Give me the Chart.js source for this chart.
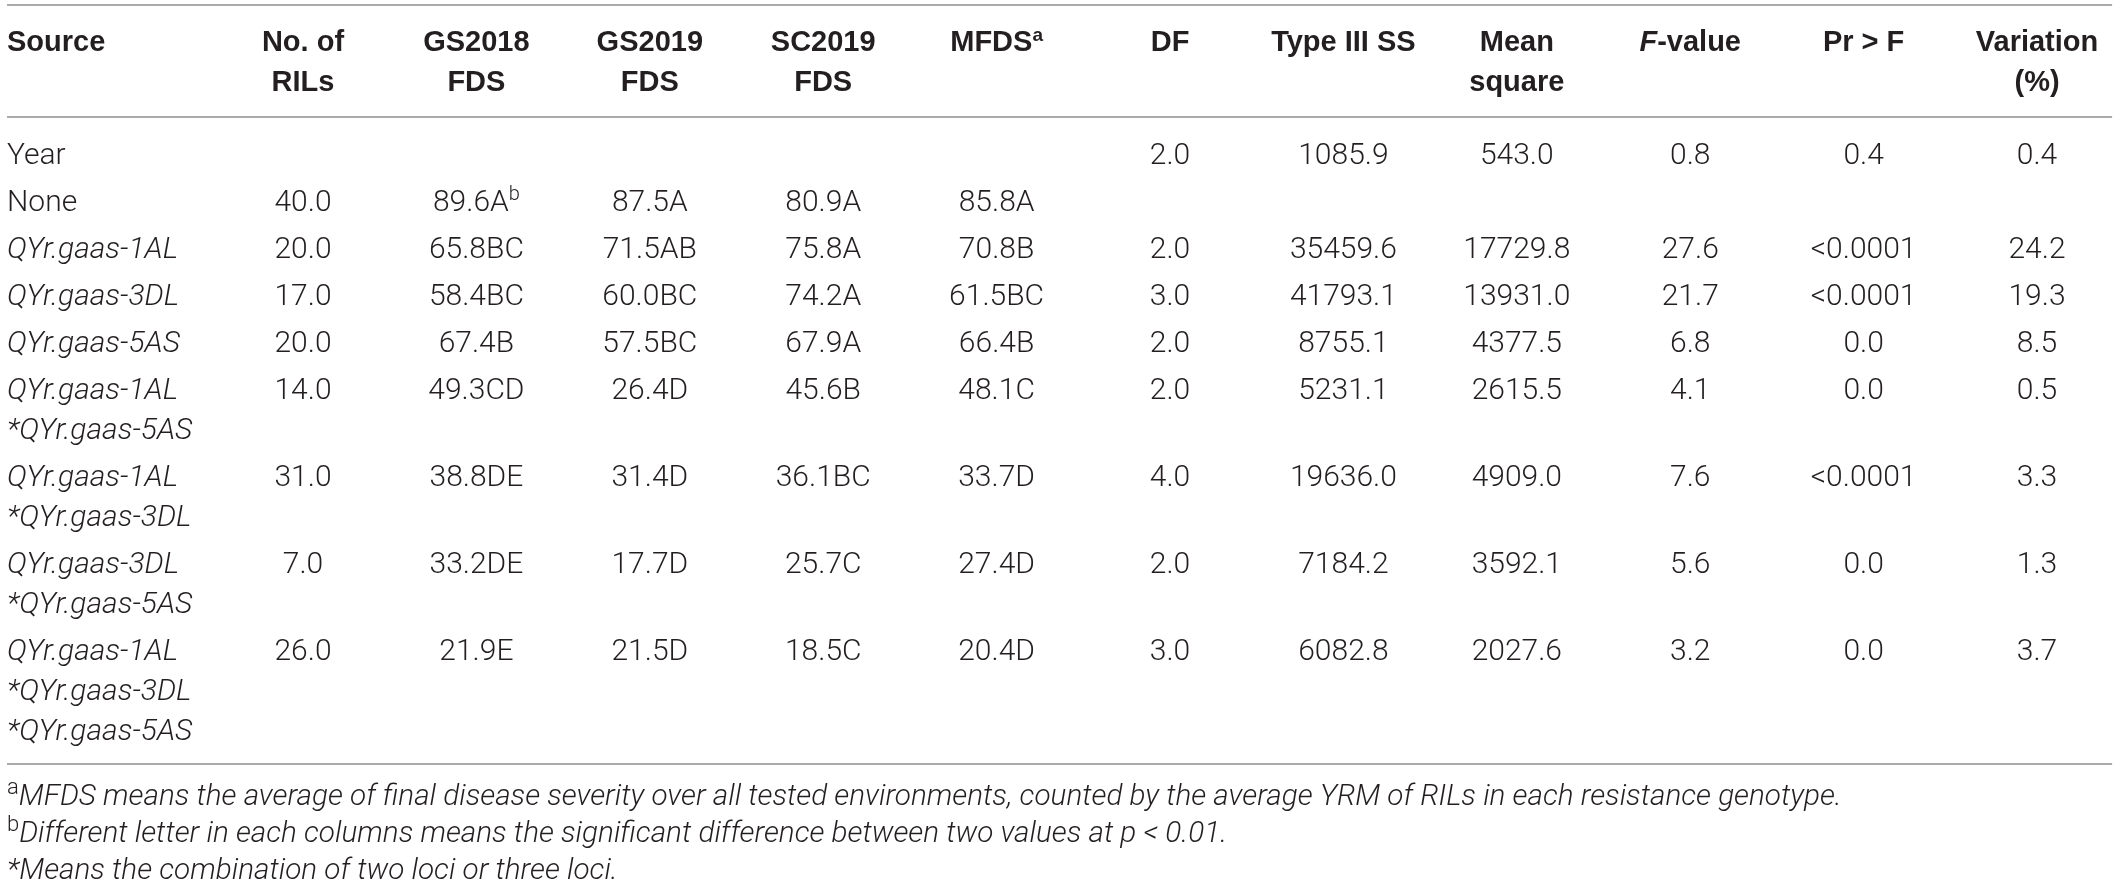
<!DOCTYPE html>
<html>
<head>
<meta charset="utf-8">
<title>QYr.gaas resistance loci: FDS and ANOVA</title>
<script src="https://cdn.jsdelivr.net/npm/chart.js@4.4.1/dist/chart.umd.min.js"></script>
<style>
  html, body { margin: 0; padding: 0; background: #fff; }
  canvas { display: block; }
</style>
</head>
<body>
<canvas id="tableChart" width="2118" height="883"></canvas>
<script>
// '|' breaks a line, _text_ is italic, ^text^ is superscript
const headers = ['Source', 'No. of|RILs', 'GS2018|FDS', 'GS2019|FDS', 'SC2019|FDS', 'MFDS^a^',
    'DF', 'Type III SS', 'Mean|square', '_F_-value', 'Pr > F', 'Variation|(%)'];

const sources = [
    'Year',
    'None',
    '_QYr.gaas-1AL_',
    '_QYr.gaas-3DL_',
    '_QYr.gaas-5AS_',
    '_QYr.gaas-1AL_|_*QYr.gaas-5AS_',
    '_QYr.gaas-1AL_|_*QYr.gaas-3DL_',
    '_QYr.gaas-3DL_|_*QYr.gaas-5AS_',
    '_QYr.gaas-1AL_|_*QYr.gaas-3DL_|_*QYr.gaas-5AS_'
];

const nRILs     = [null, 40.0, 20.0, 17.0, 20.0, 14.0, 31.0, 7.0, 26.0];
const gs2018    = [null, 89.6, 65.8, 58.4, 67.4, 49.3, 38.8, 33.2, 21.9];
const gs2018Grp = ['', 'A', 'BC', 'BC', 'B', 'CD', 'DE', 'DE', 'E'];
const gs2018Sup = ['', 'b', '', '', '', '', '', '', ''];
const gs2019    = [null, 87.5, 71.5, 60.0, 57.5, 26.4, 31.4, 17.7, 21.5];
const gs2019Grp = ['', 'A', 'AB', 'BC', 'BC', 'D', 'D', 'D', 'D'];
const sc2019    = [null, 80.9, 75.8, 74.2, 67.9, 45.6, 36.1, 25.7, 18.5];
const sc2019Grp = ['', 'A', 'A', 'A', 'A', 'B', 'BC', 'C', 'C'];
const mfds      = [null, 85.8, 70.8, 61.5, 66.4, 48.1, 33.7, 27.4, 20.4];
const mfdsGrp   = ['', 'A', 'B', 'BC', 'B', 'C', 'D', 'D', 'D'];
const df        = [2.0, null, 2.0, 3.0, 2.0, 2.0, 4.0, 2.0, 3.0];
const typeIIISS = [1085.9, null, 35459.6, 41793.1, 8755.1, 5231.1, 19636.0, 7184.2, 6082.8];
const meanSq    = [543.0, null, 17729.8, 13931.0, 4377.5, 2615.5, 4909.0, 3592.1, 2027.6];
const fValue    = [0.8, null, 27.6, 21.7, 6.8, 4.1, 7.6, 5.6, 3.2];
const prF       = ['0.4', '', '<0.0001', '<0.0001', '0.0', '0.0', '<0.0001', '0.0', '0.0'];
const variation = [0.4, null, 24.2, 19.3, 8.5, 0.5, 3.3, 1.3, 3.7];

const footnotes = [
    '^a^_MFDS means the average of final disease severity over all tested environments, counted by the average YRM of RILs in each resistance genotype._',
    '^b^_Different letter in each columns means the significant difference between two values at p < 0.01._',
    '_*Means the combination of two loci or three loci._'
];

// layout (x in column units, y in pixels from the top)
const X_MIN = -0.7474, X_MAX = 11.467;
const TABLE_LEFT = -0.707, TABLE_RIGHT = 11.433;
const HEADER_Y = 41, BODY_Y = 153, LINE = 40, ROW_PITCH = 47;
const FOOT_GAP = 30, FOOT_PITCH = 37;
const RULE_COLOR = '#8f8f8f';

const BOLD_FONT = '"Liberation Sans", Arial, sans-serif';
const LIGHT_FONT = 'Roboto, "Liberation Sans", Arial, sans-serif';

const styles = {
    head: { size: 29, weight: 'bold', family: BOLD_FONT, color: '#231f20', supScale: 0.66 },
    body: { size: 30, weight: '300', family: LIGHT_FONT, color: '#231f20', supScale: 0.66 },
    foot: { size: 29.7, weight: '300', family: LIGHT_FONT, color: '#231f20', supScale: 0.75 }
};

const fmt = v => (v == null ? '' : v.toFixed(1));
const withGrp = (vals, grp, sup) => vals.map((v, i) =>
    v == null ? '' : fmt(v) + grp[i] + (sup && sup[i] ? '^' + sup[i] + '^' : ''));

const columns = [
    sources,
    nRILs.map(fmt),
    withGrp(gs2018, gs2018Grp, gs2018Sup),
    withGrp(gs2019, gs2019Grp),
    withGrp(sc2019, sc2019Grp),
    withGrp(mfds, mfdsGrp),
    df.map(fmt),
    typeIIISS.map(fmt),
    meanSq.map(fmt),
    fValue.map(fmt),
    prF,
    variation.map(fmt)
];

// row centres follow the number of lines in the Source column
let yCursor = BODY_Y;
const rowY = sources.map(s => {
    const y = yCursor;
    yCursor += ROW_PITCH + (s.split('|').length - 1) * LINE;
    return y;
});
const lastLines = sources[sources.length - 1].split('|').length;
const HEAD_RULE = BODY_Y - 36;
const BOTTOM_RULE = rowY[rowY.length - 1] + (lastLines - 1) * LINE + 35;
const TOP_RULE = 5;
const footY = footnotes.map((f, i) => BOTTOM_RULE + FOOT_GAP + i * FOOT_PITCH);

function parseRuns(s) {
    return s.split(/(\^[^^]*\^|_[^_]*_)/).filter(Boolean).map(t => {
        if (t[0] === '^') return { t: t.slice(1, -1), sup: true };
        if (t[0] === '_') return { t: t.slice(1, -1), it: true };
        return { t };
    });
}

function fontFor(run, st) {
    const size = run.sup ? Math.round(st.size * st.supScale) : st.size;
    return (run.it ? 'italic ' : '') + st.weight + ' ' + size + 'px ' + st.family;
}

function drawRuns(ctx, runs, x, cy, align, st) {
    let total = 0;
    runs.forEach(r => { ctx.font = fontFor(r, st); r.w = ctx.measureText(r.t).width; total += r.w; });
    let cx = align === 'center' ? x - total / 2 : x;
    const base = cy + st.size * 0.36;
    runs.forEach(r => {
        ctx.font = fontFor(r, st);
        ctx.fillText(r.t, cx, r.sup ? base - st.size * 0.36 : base);
        cx += r.w;
    });
}

// draws the cell texts at the points the scales placed
const tableText = {
    id: 'tableText',
    afterDatasetsDraw(chart) {
        const ctx = chart.ctx;
        const yScale = chart.scales.y;
        ctx.save();
        ctx.textBaseline = 'alphabetic';
        ctx.textAlign = 'left';
        chart.data.datasets.forEach((ds, di) => {
            if (!ds.cells) return;
            const meta = chart.getDatasetMeta(di);
            meta.data.forEach((pt, i) => {
                const cell = ds.data[i];
                const st = styles[cell.style];
                ctx.fillStyle = st.color;
                cell.text.split('|').forEach((line, k) => {
                    const py = yScale.getPixelForValue(cell.y + k * LINE);
                    drawRuns(ctx, parseRuns(line), pt.x, py, ds.align, st);
                });
            });
        });
        ctx.restore();
    }
};

const datasets = [];

// horizontal rules
[TOP_RULE, HEAD_RULE, BOTTOM_RULE].forEach(r => {
    datasets.push({
        type: 'line',
        data: [{ x: TABLE_LEFT, y: r }, { x: TABLE_RIGHT, y: r }],
        borderColor: RULE_COLOR,
        borderWidth: 1.6,
        pointRadius: 0
    });
});

// one dataset per column: header + body cells
columns.forEach((col, c) => {
    const x = c === 0 ? TABLE_LEFT : c;
    const data = [{ x, y: HEADER_Y, text: headers[c], style: 'head' }];
    col.forEach((txt, i) => {
        if (txt !== '') data.push({ x, y: rowY[i], text: txt, style: 'body' });
    });
    datasets.push({ data, cells: true, align: c === 0 ? 'left' : 'center', pointRadius: 0 });
});

// footnotes
datasets.push({
    data: footnotes.map((f, i) => ({ x: TABLE_LEFT, y: footY[i], text: f, style: 'foot' })),
    cells: true, align: 'left', pointRadius: 0
});

new Chart(document.getElementById('tableChart'), {
    type: 'scatter',
    data: { datasets },
    options: {
        responsive: false,
        devicePixelRatio: 1,
        animation: false,
        events: [],
        layout: { padding: 0 },
        plugins: { legend: { display: false }, tooltip: { enabled: false } },
        scales: {
            x: { type: 'linear', display: false, min: X_MIN, max: X_MAX },
            y: { type: 'linear', display: false, min: 0, max: 883, reverse: true }
        }
    },
    plugins: [tableText]
});
</script>
</body>
</html>
